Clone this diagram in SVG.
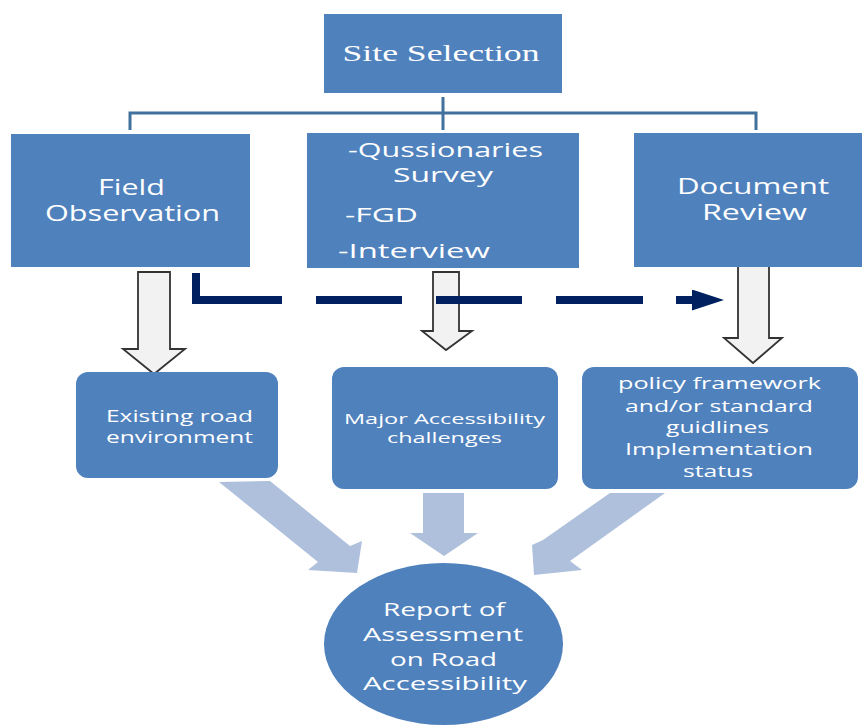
<svg xmlns="http://www.w3.org/2000/svg" width="862" height="725" viewBox="0 0 862 725">
  <defs>
    <style>
      .box { fill: #4F81BD; }
      .lbl { fill: #FFFFFF; font-family: "Open Sans", "DejaVu Sans", sans-serif; text-anchor: middle; }
      .lbl-l { fill: #FFFFFF; font-family: "Open Sans", "DejaVu Sans", sans-serif; text-anchor: start; }
      .serif { fill: #FFFFFF; font-family: "Liberation Serif", "Times New Roman", serif; text-anchor: middle; }
      .tree { fill: none; stroke: #41719C; stroke-width: 3; }
      .hollow { fill: #F2F2F2; stroke: #333333; stroke-width: 1.8; stroke-linejoin: miter; }
      .soft { fill: #AFC0DC; }
      .dash { fill: none; stroke: #002060; stroke-width: 8; stroke-linecap: butt; stroke-linejoin: miter;
              stroke-dasharray: 113 34 86 34 86 34 87 33 200; }
    </style>
    <marker id="navyHead" viewBox="0 0 32 21" markerWidth="32" markerHeight="21" refX="2" refY="10.5"
            orient="auto" markerUnits="userSpaceOnUse">
      <path d="M0,0 L32,10.5 L0,21 Z" fill="#002060"/>
    </marker>
  </defs>

  <rect width="862" height="725" fill="#FFFFFF"/>

  <!-- connectors -->
  <g id="connectors">
    <!-- tree from Site Selection to the three methods -->
    <path class="tree" d="M443,97 V130 M130,130 V113 H756 V130"/>
    <!-- hollow arrows from the methods to their findings -->
    <polygon class="hollow" points="138,272 170,272 170,349 185,349 154,374 123,349 138,349"/>
    <polygon class="hollow" points="433,272 459,272 459,331 472,331 446,350 422,331 433,331"/>
    <polygon class="hollow" points="738,260 769,260 769,338 782,338 753,363 724,338 738,338"/>
    <!-- dashed link from Field Observation toward Document Review -->
    <path class="dash" d="M196,273 V300 H694" marker-end="url(#navyHead)"/>
    <!-- soft arrows converging on the report -->
    <polygon class="soft" points="219,482 270,481 350,546 362,541 357,573 308,570 318,562"/>
    <polygon class="soft" points="423,493 464,493 464,533 478,533 444,556 410,533 423,533"/>
    <polygon class="soft" points="610,493 665,493 570,561 582,570 534,575 532,545 543,540"/>
  </g>

  <g id="site-selection">
    <rect class="box" x="324" y="14" width="238" height="79"/>
    <text class="serif" x="441" y="61" font-size="24" textLength="197" lengthAdjust="spacingAndGlyphs">Site Selection</text>
  </g>

  <g id="field-observation">
    <rect class="box" x="11" y="134" width="239" height="133"/>
    <text class="lbl" x="131.5" y="195" font-size="21" textLength="67" lengthAdjust="spacingAndGlyphs">Field</text>
    <text class="lbl" x="132.5" y="221" font-size="21" textLength="175" lengthAdjust="spacingAndGlyphs">Observation</text>
  </g>

  <g id="survey-methods">
    <rect class="box" x="307" y="133" width="272" height="135"/>
    <text class="lbl-l" x="348" y="157" font-size="19.5" textLength="195" lengthAdjust="spacingAndGlyphs">-Qussionaries</text>
    <text class="lbl-l" x="393" y="182" font-size="19.5" textLength="100" lengthAdjust="spacingAndGlyphs">Survey</text>
    <text class="lbl-l" x="345" y="222" font-size="19.5" textLength="73" lengthAdjust="spacingAndGlyphs">-FGD</text>
    <text class="lbl-l" x="338" y="258" font-size="19.5" textLength="152" lengthAdjust="spacingAndGlyphs">-Interview</text>
  </g>

  <g id="document-review">
    <rect class="box" x="634" y="133" width="228" height="134"/>
    <text class="lbl" x="753" y="194" font-size="21" textLength="152" lengthAdjust="spacingAndGlyphs">Document</text>
    <text class="lbl" x="754.5" y="220" font-size="21" textLength="105" lengthAdjust="spacingAndGlyphs">Review</text>
  </g>

  <g id="road-environment">
    <rect class="box" x="76" y="372" width="202" height="106" rx="12" ry="12"/>
    <text class="lbl" x="179.5" y="422" font-size="17" textLength="147" lengthAdjust="spacingAndGlyphs">Existing road</text>
    <text class="lbl" x="179.5" y="443" font-size="17" textLength="147" lengthAdjust="spacingAndGlyphs">environment</text>
  </g>

  <g id="accessibility-challenges">
    <rect class="box" x="332" y="367" width="226" height="122" rx="12" ry="12"/>
    <text class="lbl" x="444.5" y="424" font-size="14.5" textLength="201" lengthAdjust="spacingAndGlyphs">Major Accessibility</text>
    <text class="lbl" x="444.5" y="443" font-size="14.5" textLength="115" lengthAdjust="spacingAndGlyphs">challenges</text>
  </g>

  <g id="policy-status">
    <rect class="box" x="582" y="367" width="276" height="122" rx="12" ry="12"/>
    <text class="lbl" x="719.5" y="389" font-size="16.5" textLength="203" lengthAdjust="spacingAndGlyphs">policy framework</text>
    <text class="lbl" x="719" y="412" font-size="16.5" textLength="188" lengthAdjust="spacingAndGlyphs">and/or standard</text>
    <text class="lbl" x="717.5" y="433" font-size="16.5" textLength="103" lengthAdjust="spacingAndGlyphs">guidlines</text>
    <text class="lbl" x="719" y="455" font-size="16.5" textLength="188" lengthAdjust="spacingAndGlyphs">Implementation</text>
    <text class="lbl" x="718" y="477" font-size="16.5" textLength="70" lengthAdjust="spacingAndGlyphs">status</text>
  </g>

  <g id="assessment-report">
    <ellipse class="box" cx="443.5" cy="644" rx="119.5" ry="81"/>
    <text class="lbl" x="444" y="616" font-size="19" textLength="122" lengthAdjust="spacingAndGlyphs">Report of</text>
    <text class="lbl" x="443" y="641" font-size="19" textLength="160" lengthAdjust="spacingAndGlyphs">Assessment</text>
    <text class="lbl" x="443.5" y="666" font-size="19" textLength="107" lengthAdjust="spacingAndGlyphs">on Road</text>
    <text class="lbl" x="445" y="690" font-size="19" textLength="164" lengthAdjust="spacingAndGlyphs">Accessibility</text>
  </g>
</svg>
